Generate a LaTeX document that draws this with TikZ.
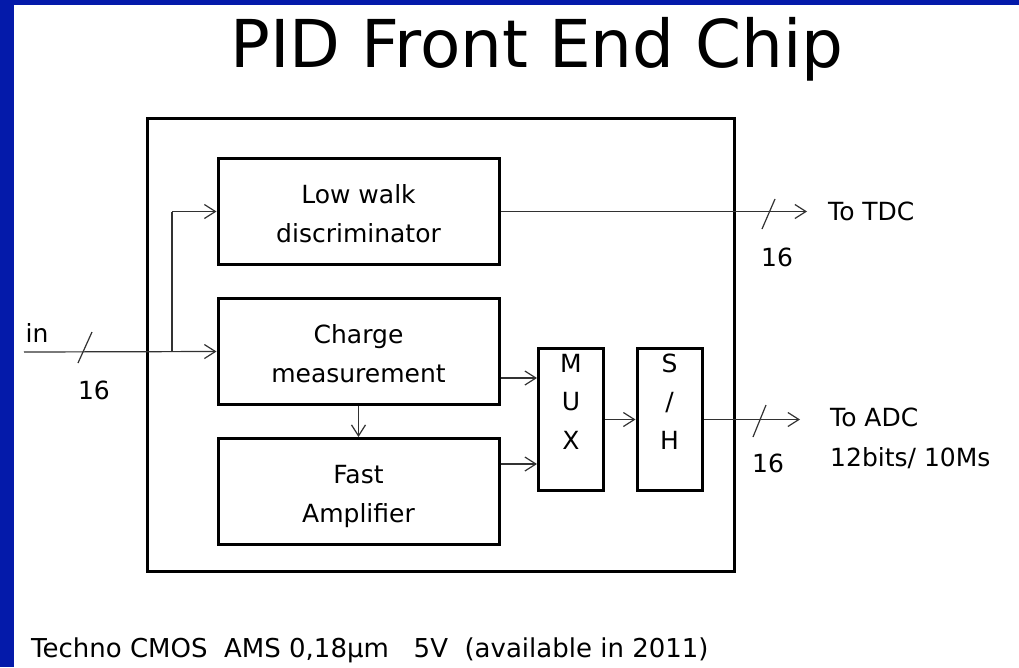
\documentclass[tikz,border=0pt]{standalone}
\usepackage{fontspec}
\setmainfont{DejaVu Sans}
\usetikzlibrary{arrows.meta}
\definecolor{slideblue}{RGB}{4,26,170}
\definecolor{wire}{RGB}{50,50,50}
\begin{document}
\begin{tikzpicture}[x=1pt,y=-1pt,
  blockbox/.style={draw=black,line width=3pt,minimum width=281pt,minimum height=106pt,inner sep=0pt},
  tallbox/.style={draw=black,line width=3pt,minimum width=65pt,minimum height=142pt,inner sep=0pt},
  conn/.style={draw=wire,line width=1.2pt,-{Straight Barb[length=11pt,width=14pt,line width=1.2pt]}},
  plain/.style={draw=wire,line width=1.2pt},
  lbl/.style={font=\fontsize{25}{30}\selectfont,inner sep=0pt,anchor=base}
]
\useasboundingbox (0,0) rectangle (1019,667);
\fill[white] (0,0) rectangle (1019,667);
\fill[slideblue] (0,0) rectangle (14,667);
\fill[slideblue] (0,0) rectangle (1019,5);

% title
\node[inner sep=0pt,anchor=base,font=\fontsize{66}{72}\selectfont] (title) at (537,67) {PID Front End Chip};

% outer chip box
\node[draw=black,line width=3pt,minimum width=587pt,minimum height=453pt,inner sep=0pt] (chip) at (440.5,344.5) {};

% blocks
\node[blockbox] (lw) at (358.5,211.5) {};
\node[blockbox] (cm) at (358.5,351.5) {};
\node[blockbox] (fa) at (358.5,491.5) {};
\node[tallbox] (mux) at (571,419.5) {};
\node[tallbox] (sh) at (669.5,419.5) {};

% block texts
\node[lbl] (lwa) at (358.5,203) {Low walk};
\node[lbl] (lwb) at (358.5,242) {discriminator};
\node[lbl] (cma) at (358.5,343) {Charge};
\node[lbl] (cmb) at (358.5,382) {measurement};
\node[lbl] (faa) at (358.5,483) {Fast};
\node[lbl] (fab) at (358.5,522) {Amplifier};
\node[lbl] (m1) at (571,372) {M};
\node[lbl] (m2) at (571,410) {U};
\node[lbl] (m3) at (571,449) {X};
\node[lbl] (s1) at (669.5,372) {S};
\node[lbl] (s2) at (669.5,410) {/};
\node[lbl] (s3) at (669.5,449) {H};

% coordinates
\coordinate (in) at (24,352);
\coordinate (br) at (172,352);
\coordinate (brtop) at (172,211.5);
\coordinate (tdc) at (807,211.5);
\coordinate (adc) at (800,419.5);

% connectors
\draw[conn] (in) -- (cm.west);
\draw[plain] (br) -- (brtop);
\draw[conn] (brtop) -- (lw.west);
\draw[conn] (lw.east) -- (tdc);
\draw[conn] (cm.east |- 0,378) -- (mux.west |- 0,378);
\draw[conn] (fa.east |- 0,464) -- (mux.west |- 0,464);
\draw[conn] (cm.south) -- (fa.north);
\draw[conn] (mux.east) -- (sh.west);
\draw[conn] (sh.east) -- (adc);

% bus slashes
\draw[plain] (78,363) -- (92,332);
\draw[plain] (762,229) -- (775,199);
\draw[plain] (753,437) -- (766,405);

% outside labels
\node[lbl] (inl) at (37,342) {in};
\node[lbl] (in16) at (94,399) {16};
\node[lbl,anchor=base west] (tdcl) at (828,220) {To TDC};
\node[lbl] (tdc16) at (777,266) {16};
\node[lbl,anchor=base west] (adcl) at (830,426) {To ADC};
\node[lbl,anchor=base west] (adcr) at (830,466) {12bits/ 10Ms};
\node[lbl] (adc16) at (768,472) {16};

% footer
\node[lbl,anchor=base west,font=\fontsize{26}{30}\selectfont] (foot) at (31,657) {Techno CMOS\ \ AMS 0,18µm\ \ \ 5V\ \ (available in 2011)};
\end{tikzpicture}
\end{document}
